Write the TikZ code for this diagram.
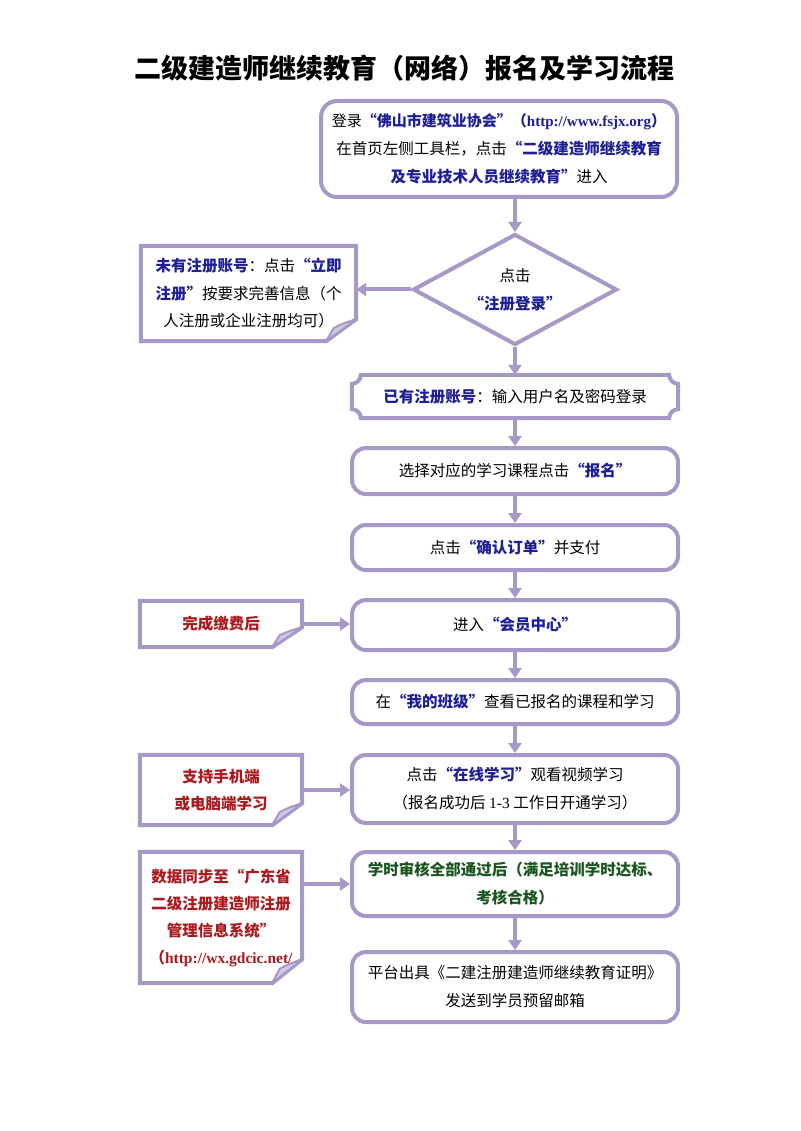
\documentclass[tikz,border=0pt]{standalone}
\usepackage{fontspec}
\setmainfont{Noto Sans CJK SC}
\newfontfamily\lat{Liberation Serif}
\usetikzlibrary{arrows.meta,shapes.geometric,calc}
\definecolor{lav}{RGB}{166,153,200}
\definecolor{lavl}{RGB}{208,200,230}
\definecolor{cblue}{RGB}{30,30,150}
\definecolor{cred}{RGB}{170,25,30}
\definecolor{cgreen}{RGB}{25,85,30}
\newcommand{\bl}[1]{{\bfseries\color{cblue}#1}}
\newcommand{\rd}[1]{{\bfseries\color{cred}#1}}
\newcommand{\notepath}[3]{%
  \draw[outl] (#1.north west) -- (#1.north east) -- ($(#1.south east)+(0,-#3)$) -- ($(#1.south east)+(-#2,0)$) -- (#1.south west) -- cycle;
  \draw[draw=lav, line width=2pt, fill=lavl, line join=round] ($(#1.south east)+(0,-#3)$) .. controls ($(#1.south east)+(-#2*0.45,-#3*0.8)$) .. ($(#1.south east)+(-#2*0.75,-#3*0.6)$) -- ($(#1.south east)+(-#2,0)$) -- cycle;
}
\begin{document}
\begin{tikzpicture}[x=1pt,y=-1pt,
  every node/.style={font=\fontsize{15.5}{28}\selectfont, align=center, inner sep=0pt},
  rbox/.style={draw=lav, line width=4pt, rounded corners=14pt, fill=white, minimum width=326pt},
  arr/.style={draw=lav, line width=4pt, -{Triangle[width=13pt,length=10pt]}},
  outl/.style={draw=lav, line width=4pt, line join=miter}
]
\useasboundingbox[fill=white] (0,0) rectangle (800,1131);

\node[font=\fontsize{27}{30}\selectfont\bfseries] (t) at (404,68) {二级建造师继续教育（网络）报名及学习流程};

\node[rbox, minimum width=356pt, minimum height=96pt, rounded corners=16pt] (b1) at (499,149)
  {{\fontsize{15}{28}\selectfont 登录\bl{“佛山市建筑业协会”（{\lat http://www.fsjx.org}）}}\\在首页左侧工具栏，点击\bl{“二级建造师继续教育}\\\bl{及专业技术人员继续教育”}进入};

\node[diamond, draw=lav, line width=4pt, fill=white, aspect=1.84, minimum width=204pt, minimum height=111pt] (d) at (515,289.5)
  {点击\\\bl{“注册登录”}};

\node[minimum width=215pt, minimum height=95pt, font=\fontsize{15.5}{27.5}\selectfont] (n1) at (248.5,293.5)
  {\bl{未有注册账号}：点击\bl{“立即}\\\bl{注册”}按要求完善信息（个\\人注册或企业注册均可）};
\notepath{n1}{30}{22}

\node[minimum width=326pt, minimum height=43pt] (p) at (515,396.5) {\bl{已有注册账号}：输入用户名及密码登录};
\draw[outl] ($(p.north west)+(9,0)$) -- ($(p.north east)+(-9,0)$) arc[start angle=180,end angle=270,radius=9pt]
  -- ($(p.south east)+(0,-9)$) arc[start angle=90,end angle=180,radius=9pt]
  -- ($(p.south west)+(9,0)$) arc[start angle=0,end angle=90,radius=9pt]
  -- ($(p.north west)+(0,9)$) arc[start angle=270,end angle=360,radius=9pt] -- cycle;

\node[rbox, minimum height=46pt] (b3) at (515,471) {选择对应的学习课程点击\bl{“报名”}};
\node[rbox, minimum height=45pt] (b4) at (515,547.5) {点击\bl{“确认订单”}并支付};
\node[rbox, minimum height=50pt] (b5) at (515,625) {进入\bl{“会员中心”}};
\node[minimum width=162pt, minimum height=46pt] (n2) at (221,624) {\rd{完成缴费后}};
\notepath{n2}{30}{20}
\node[rbox, minimum height=44pt] (b6) at (515,702) {在\bl{“我的班级”}查看已报名的课程和学习};
\node[rbox, minimum height=68pt] (b7) at (515,789) {点击\bl{“在线学习”}观看视频学习\\（报名成功后 {\lat 1-3} 工作日开通学习）};
\node[minimum width=162pt, minimum height=70pt, font=\fontsize{15.5}{27}\selectfont] (n3) at (221,790) {\rd{支持手机端}\\\rd{或电脑端学习}};
\notepath{n3}{30}{22}
\node[rbox, minimum height=64pt] (b8) at (515,884) {\bfseries\color{cgreen}学时审核全部通过后（满足培训学时达标、\\\bfseries\color{cgreen}考核合格）};
\node[minimum width=162pt, minimum height=131pt, font=\fontsize{15.5}{27}\selectfont] (n4) at (221,917.5)
  {\rd{数据同步至“广东省}\\\rd{二级注册建造师注册}\\\rd{管理信息系统”}\\\rd{（{\lat http://wx.gdcic.net/}}};
\notepath{n4}{30}{24}
\node[rbox, minimum height=70pt] (b9) at (515,987) {平台出具《二建注册建造师继续教育证明》\\发送到学员预留邮箱};

\draw[arr] (d.north |- b1.south) -- (d.north);
\draw[arr] (d.west) -- (n1.east |- d.west);
\draw[arr] (d.south) -- (p.north);
\draw[arr] (p.south) -- (b3.north);
\draw[arr] (b3.south) -- (b4.north);
\draw[arr] (b4.south) -- (b5.north);
\draw[arr] (b5.south) -- (b6.north);
\draw[arr] (b6.south) -- (b7.north);
\draw[arr] (b7.south) -- (b8.north);
\draw[arr] (b8.south) -- (b9.north);
\draw[arr] (n2.east) -- (n2.east -| b5.west);
\draw[arr] (n3.east) -- (n3.east -| b7.west);
\draw[arr] (n4.east |- b8.west) -- (b8.west);
\end{tikzpicture}
\end{document}
